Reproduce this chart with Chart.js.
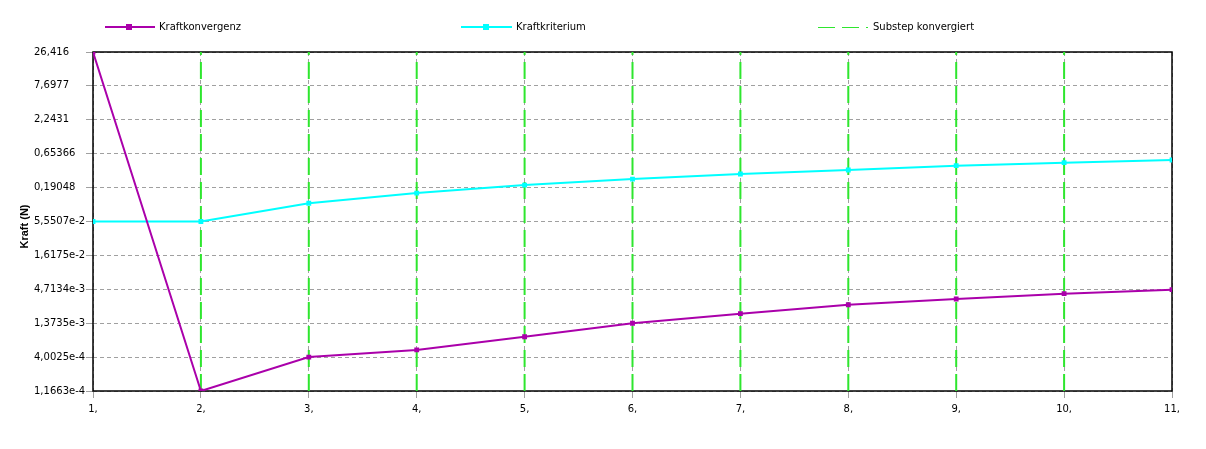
<!DOCTYPE html>
<html><head><meta charset="utf-8">
<script src="https://cdn.jsdelivr.net/npm/chart.js@4.4.0/dist/chart.umd.min.js"></script>
<style>html,body{margin:0;padding:0;background:#fff;}#wrap{width:1206px;height:449px;position:relative;}</style>
</head><body><div id="wrap"><canvas id="c" width="1206" height="449"></canvas></div>
<script>
const xValues = [1, 2, 3, 4, 5, 6, 7, 8, 9, 10, 11];
const kraftkonvergenz = [26.416, 1.1663e-4, 4.0025e-4, 5.2e-4, 8.4e-4, 1.37e-3, 1.94e-3, 2.69e-3, 3.31e-3, 4.02e-3, 4.65e-3];
const kraftkriterium = [5.5507e-2, 5.5507e-2, 0.1077, 0.156, 0.209, 0.26, 0.312, 0.361, 0.423, 0.471, 0.52];
const substepKonvergiert = [2, 3, 4, 5, 6, 7, 8, 9, 10];
const yTickValues = [1.1663e-4, 4.0025e-4, 1.3735e-3, 4.7134e-3, 1.6175e-2, 5.5507e-2, 0.19048, 0.65366, 2.2431, 7.6977, 26.416];
const yTickLabels = ['1,1663e-4', '4,0025e-4', '1,3735e-3', '4,7134e-3', '1,6175e-2', '5,5507e-2', '0,19048', '0,65366', '2,2431', '7,6977', '26,416'];
const xTickLabels = ['1,', '2,', '3,', '4,', '5,', '6,', '7,', '8,', '9,', '10,', '11,'];
const seriesNames = ['Kraftkonvergenz', 'Kraftkriterium', 'Substep konvergiert'];

const PURPLE = '#aa00aa', CYAN = '#00ffff', GREEN = '#2ee62e', GRID = '#a0a0a0';
const FONT = '"DejaVu Sans", Verdana, sans-serif';
const yMin = yTickValues[0], yMax = yTickValues[yTickValues.length - 1];

const datasets = [
  { label: seriesNames[0], data: xValues.map((x, i) => ({ x, y: kraftkonvergenz[i] })),
    borderColor: PURPLE, backgroundColor: PURPLE, borderWidth: 2, pointRadius: 2, pointHoverRadius: 2,
    pointStyle: 'rect', tension: 0, order: 0 },
  { label: seriesNames[1], data: xValues.map((x, i) => ({ x, y: kraftkriterium[i] })),
    borderColor: CYAN, backgroundColor: CYAN, borderWidth: 2, pointRadius: 2, pointHoverRadius: 2,
    pointStyle: 'rect', tension: 0, order: 1 }
];
substepKonvergiert.forEach(x => datasets.push({
  label: seriesNames[2], data: [{ x, y: yMin }, { x, y: yMax }],
  borderColor: GREEN, borderWidth: 2, borderDash: [17, 7], pointRadius: 0, order: 5
}));

const boxPlugin = {
  id: 'box',
  beforeDatasetsDraw(chart) {
    const { ctx, chartArea: a } = chart;
    ctx.save();
    ctx.strokeStyle = '#000';
    ctx.lineWidth = 1.5;
    ctx.strokeRect(a.left, a.top, a.right - a.left, a.bottom - a.top);
    ctx.restore();
  }
};

const legendPlugin = {
  id: 'customLegend',
  afterDraw(chart) {
    const ctx = chart.ctx;
    const y = 27;
    ctx.save();
    ctx.font = '10px ' + FONT;
    ctx.fillStyle = '#000';
    ctx.textBaseline = 'middle';
    ctx.textAlign = 'left';
    ctx.strokeStyle = PURPLE; ctx.lineWidth = 2;
    ctx.beginPath(); ctx.moveTo(105, y); ctx.lineTo(155, y); ctx.stroke();
    ctx.fillStyle = PURPLE; ctx.fillRect(126, y - 3, 6, 6);
    ctx.fillStyle = '#000'; ctx.fillText(seriesNames[0], 159, y);
    ctx.strokeStyle = CYAN; ctx.lineWidth = 2;
    ctx.beginPath(); ctx.moveTo(461, y); ctx.lineTo(512, y); ctx.stroke();
    ctx.fillStyle = CYAN; ctx.fillRect(483, y - 3, 6, 6);
    ctx.fillStyle = '#000'; ctx.fillText(seriesNames[1], 516, y);
    ctx.strokeStyle = GREEN; ctx.lineWidth = 1;
    ctx.setLineDash([17, 7]);
    ctx.beginPath(); ctx.moveTo(818, y + 0.5); ctx.lineTo(868, y + 0.5); ctx.stroke();
    ctx.setLineDash([]);
    ctx.fillStyle = '#000'; ctx.fillText(seriesNames[2], 873, y);
    ctx.restore();
  }
};

new Chart(document.getElementById('c'), {
  type: 'line',
  data: { datasets },
  options: {
    responsive: false,
    animation: false,
    devicePixelRatio: 1,
    layout: { padding: { left: 34, right: 34, top: 52, bottom: 0 } },
    plugins: { legend: { display: false }, tooltip: { enabled: false }, title: { display: false } },
    scales: {
      x: {
        type: 'linear', min: 1, max: 11,
        afterFit(s) { s.height = 58; },
        ticks: { stepSize: 1, color: '#000', font: { family: FONT, size: 10 }, padding: 5,
          callback: (v) => xTickLabels[xValues.indexOf(v)] ?? '', maxRotation: 0, autoSkip: false },
        grid: { color: GRID, tickColor: GRID, tickLength: 7, lineWidth: 1 },
        border: { display: false, dash: [4, 3] }
      },
      y: {
        type: 'logarithmic', min: yMin, max: yMax,
        afterFit(s) { s.width = 59; },
        afterBuildTicks(s) { s.ticks = yTickValues.map(v => ({ value: v })); },
        ticks: { color: '#000', font: { family: FONT, size: 10 }, padding: 4, crossAlign: 'far',
          callback: (v, i) => yTickLabels[i] },
        grid: { color: GRID, tickColor: GRID, tickLength: 7, lineWidth: 1 },
        border: { display: false, dash: [4, 3] },
        title: { display: false }
      }
    }
  },
  plugins: [boxPlugin, legendPlugin, {
    id: 'yTitle',
    afterDraw(chart) {
      const ctx = chart.ctx, a = chart.chartArea;
      ctx.save();
      ctx.translate(25, (a.top + a.bottom) / 2 + 5);
      ctx.rotate(-Math.PI / 2);
      ctx.font = 'bold 11px "Liberation Sans", Arial, sans-serif';
      ctx.fillStyle = '#000';
      ctx.textAlign = 'center';
      ctx.textBaseline = 'middle';
      ctx.fillText('Kraft (N)', 0, 0);
      ctx.restore();
    }
  }]
});
</script></body></html>
